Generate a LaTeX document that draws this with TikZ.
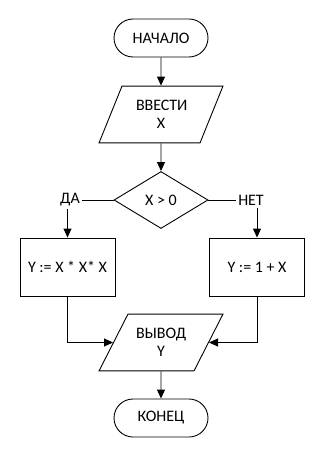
\documentclass[tikz,border=0pt]{standalone}
\usepackage{fontspec}
\setmainfont{Carlito}
\usetikzlibrary{shapes.geometric,arrows.meta}

\begin{document}
\begin{tikzpicture}[x=1pt, y=-1pt, >={Triangle[length=9pt,width=8pt]}, line width=0.9pt,
        every node/.style={font=\fontsize{16}{18.5}\selectfont, align=center, inner sep=0pt},
        term/.style={draw, rectangle, rounded corners=19pt, minimum width=94pt, minimum height=38pt},
        io/.style={draw, trapezium, text width=50pt, inner ysep=14pt},
        decision/.style={draw, diamond, minimum width=94pt, minimum height=57pt},
        proc/.style={draw, rectangle, minimum width=95pt, minimum height=58pt},
        branch/.style={inner sep=2pt}]
        % ==== FRAME ====
        \useasboundingbox (0,0) rectangle (326,462);

        % ==== BLOCKS ====
        \node[term] (start) at (161,38) {НАЧАЛО};
        \node[io, inner xsep=14pt, trapezium left angle=68, trapezium right angle=112] (input) at (161,114.5) {ВВЕСТИ\\X};
        \node[decision] (cond) at (161,200) {X > 0};
        \node[branch] (yes) at (70,200) {ДА};
        \node[branch] (no) at (251,200) {НЕТ};
        \node[proc] (lbox) at (67.5,267) {Y := X * X* X};
        \node[proc] (rbox) at (257,267) {Y := 1 + X};
        \node[io, inner xsep=8pt, trapezium left angle=63, trapezium right angle=117] (output) at (161,342.5) {ВЫВОД\\Y};
        \node[term] (stop) at (161,418) {КОНЕЦ};

        % ==== MAIN FLOW ====
        \draw[->] (start) -- (input);
        \draw[->] (input) -- (cond);
        \draw[->] (output) -- (stop);

        % ==== BRANCHES ====
        \draw (cond.west) -- (yes.east);
        \draw (cond.east) -- (no.west);
        \draw[->] (lbox.north |- yes.south) -- (lbox.north);
        \draw[->] (rbox.north |- no.south) -- (rbox.north);

        % ==== MERGE ====
        \draw[->] (lbox.south) |- (output.west);
        \draw[->] (rbox.south) |- (output.east);
    \end{tikzpicture}
\end{document}
